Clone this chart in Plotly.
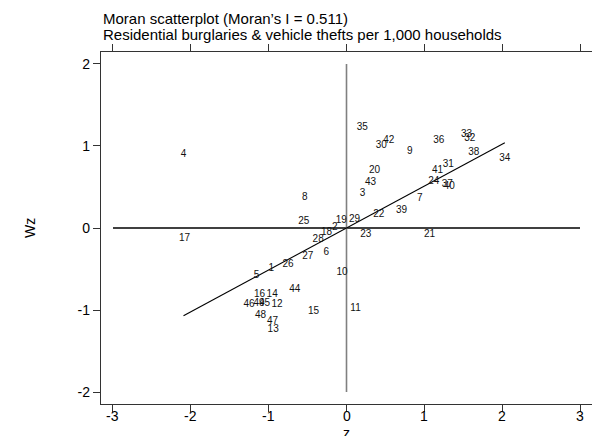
import numpy as np
import plotly.graph_objects as go

labels = [str(i) for i in range(1, 50)]
z = [-0.967, -0.150, 0.206, -2.094, -1.156, -0.261, 0.942, -0.536, 0.813, -0.058,
     0.116, -0.893, -0.942, -0.955, -0.424, -1.118, -2.081, -0.257, -0.068, 0.360,
     1.066, 0.415, 0.248, 1.122, -0.549, -0.752, -0.497, -0.364, 0.103, 0.446,
     1.307, 1.584, 1.542, 2.034, 0.202, 1.186, 1.294, 1.636, 0.707, 1.320,
     1.169, 0.543, 0.308, -0.664, -1.054, -1.253, -0.951, -1.105, -1.124]
wz = [-0.488, 0.009, 0.418, 0.902, -0.577, -0.296, 0.360, 0.374, 0.935, -0.543,
      -0.976, -0.927, -1.240, -0.805, -1.012, -0.805, -0.122, -0.052, 0.089, 0.699,
      -0.077, 0.167, -0.082, 0.561, 0.077, -0.439, -0.350, -0.138, 0.104, 1.000,
      0.780, 1.089, 1.138, 0.845, 1.228, 1.065, 0.528, 0.918, 0.213, 0.504,
      0.707, 1.065, 0.555, -0.744, -0.921, -0.927, -1.143, -1.070, -0.921]
moran_i = 0.511
x_ticks = [-3, -2, -1, 0, 1, 2, 3]
y_ticks = [-2, -1, 0, 1, 2]
title1 = "Moran scatterplot (Moran\u2019s I = 0.511)"
title2 = "Residential burglaries & vehicle thefts per 1,000 households"

FONT = "Liberation Sans, Arial, Helvetica, sans-serif"

fig = go.Figure()
# horizontal reference line at Wz = 0
fig.add_trace(go.Scatter(x=[x_ticks[0], x_ticks[-1]], y=[0, 0], mode="lines",
                         line=dict(color="#000000", width=1.3), hoverinfo="skip"))
# vertical reference line at z = 0
fig.add_trace(go.Scatter(x=[0, 0], y=[y_ticks[0], y_ticks[-1]], mode="lines",
                         line=dict(color="#808080", width=1.6), hoverinfo="skip"))
# regression line (slope = Moran's I)
zmin, zmax = min(z), max(z)
fig.add_trace(go.Scatter(x=[zmin, zmax], y=[moran_i * zmin, moran_i * zmax], mode="lines",
                         line=dict(color="#000000", width=1.1), hoverinfo="skip"))
# labels
fig.add_trace(go.Scatter(x=z, y=wz, mode="text", text=labels,
                         textposition="middle center",
                         textfont=dict(family=FONT, size=10, color="#111111")))

fig.add_annotation(text=title1, xref="paper", yref="paper", x=0, y=1 + 33.5 / 352,
                   xanchor="left", yanchor="middle", showarrow=False,
                   font=dict(family=FONT, size=15, color="#000000"))
fig.add_annotation(text=title2, xref="paper", yref="paper", x=0, y=1 + 17.5 / 352,
                   xanchor="left", yanchor="middle", showarrow=False,
                   font=dict(family=FONT, size=15, color="#000000"))
fig.add_annotation(text="Wz", xref="paper", yref="paper", x=-71 / 491, y=0.5,
                   xanchor="center", yanchor="middle", textangle=-90, showarrow=False,
                   font=dict(family=FONT, size=14, color="#000000"))
fig.add_annotation(text="z", xref="paper", yref="paper", x=(346 - 101) / 491, y=-29 / 352,
                   xanchor="center", yanchor="middle", showarrow=False,
                   font=dict(family=FONT, size=14, color="#000000"))
# x tick labels placed close under the ticks
for v in x_ticks:
    fig.add_annotation(text=str(v), xref="x", yref="paper", x=v, y=-11.5 / 352,
                       xanchor="center", yanchor="middle", showarrow=False,
                       font=dict(family=FONT, size=14, color="#000000"))

fig.update_layout(
    width=592, height=436,
    margin=dict(l=101, r=0, t=52, b=32),
    paper_bgcolor="white", plot_bgcolor="white",
    showlegend=False,
    font=dict(family=FONT, size=14, color="#000000"),
)
fig.update_xaxes(range=[-3.154, 3.154], tickvals=x_ticks, showticklabels=False,
                 showgrid=False, zeroline=False, showline=True, linecolor="#333333",
                 linewidth=1.3, mirror="ticks", ticks="outside", ticklen=7, tickwidth=1.3,
                 tickcolor="#333333")
fig.update_yaxes(range=[-2.146, 2.146], tickvals=y_ticks, ticktext=[str(v) for v in y_ticks],
                 showgrid=False, zeroline=False, showline=True, linecolor="#333333",
                 linewidth=1.3, ticks="outside", ticklen=7, tickwidth=1.3,
                 tickcolor="#333333", tickfont=dict(family=FONT, size=14, color="#000000"))

fig.write_html("out.html")
